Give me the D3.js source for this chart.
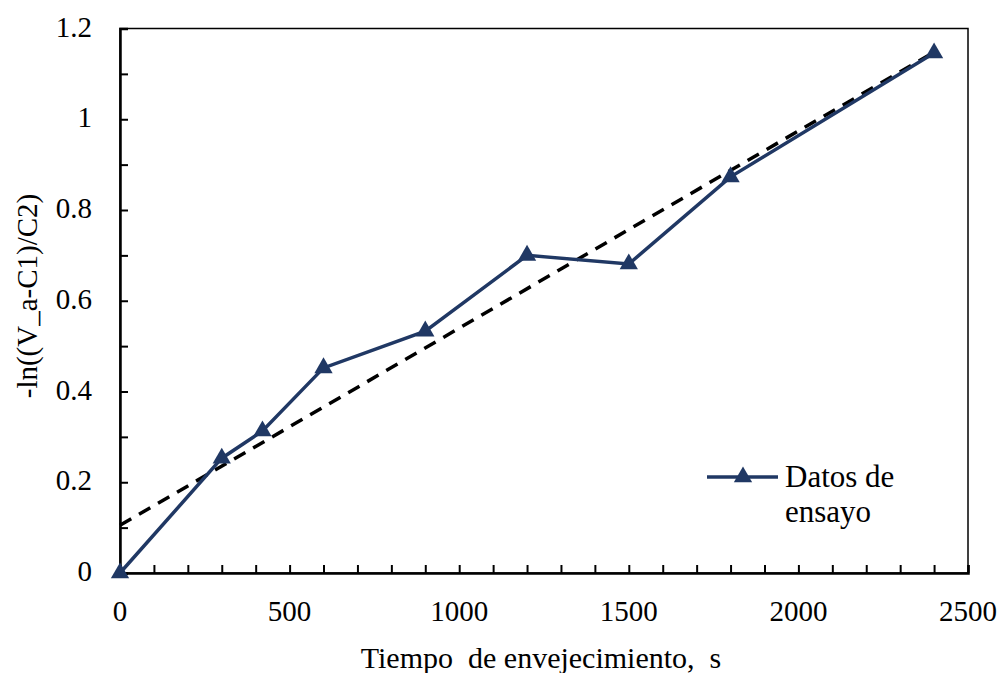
<!DOCTYPE html>
<html>
<head>
<meta charset="utf-8">
<script src="https://cdn.jsdelivr.net/npm/d3@7"></script>
</head>
<body style="margin:0">
<svg id="chart" width="1006" height="673"></svg>
<script>
// data
const tiempo = [0, 300, 420, 600, 900, 1200, 1500, 1800, 2400];
const lnValor = [0, 0.253, 0.313, 0.452, 0.533, 0.70, 0.681, 0.873, 1.146];
const trendX = [0, 2400];
const trendY = [0.105, 1.148];
const xTicks = [0, 500, 1000, 1500, 2000, 2500];
const yTicks = [0, 0.2, 0.4, 0.6, 0.8, 1, 1.2];

const serif = "Times New Roman, Liberation Serif, serif";
const svg = d3.select("#chart");
const mLeft = 120, mRight = 968, mTop = 28.5, mBottom = 573;
const navy = "#203864";

const x = d3.scaleLinear().domain([0, 2500]).range([mLeft, mRight]);
const y = d3.scaleLinear().domain([0, 1.2]).range([mBottom, mTop]);

// text first, so the serif face is the first one used on the page
svg.append("g").selectAll("text").data(xTicks).join("text")
  .attr("x", d => x(d)).attr("y", 621)
  .attr("text-anchor", "middle").attr("font-size", 29)
  .attr("font-family", serif)
  .text(d => d);

svg.append("g").selectAll("text").data(yTicks).join("text")
  .attr("x", mLeft - 28).attr("y", d => y(d) + 8)
  .attr("text-anchor", "end").attr("font-size", 29)
  .attr("font-family", serif)
  .text(d => d);

svg.append("text")
  .attr("x", 541).attr("y", 668)
  .attr("text-anchor", "middle").attr("font-size", 30)
  .attr("font-family", serif)
  .text("Tiempo\u00a0 de envejecimiento,\u00a0 s");

svg.append("text")
  .attr("transform", "translate(37,296) rotate(-90)")
  .attr("text-anchor", "middle").attr("font-size", 29)
  .attr("font-family", serif)
  .text("-ln((V_a-C1)/C2)");

svg.append("text").attr("x", 785).attr("y", 487).attr("font-size", 31)
  .attr("font-family", serif).text("Datos de");
svg.append("text").attr("x", 785).attr("y", 522).attr("font-size", 31)
  .attr("font-family", serif).text("ensayo");

// box
svg.append("rect")
  .attr("x", mLeft).attr("y", mTop)
  .attr("width", mRight - mLeft).attr("height", mBottom - mTop)
  .attr("fill", "none").attr("stroke", "#000").attr("stroke-width", 1.5);

// ticks (inside), every 100 s and every 0.1
const xAxis = d3.axisBottom(x).tickValues(d3.range(0, 2501, 100))
  .tickSize(-8).tickFormat("");
svg.append("g").attr("transform", `translate(0,${mBottom})`).call(xAxis)
  .attr("font-family", serif)
  .call(g => g.selectAll(".tick text").remove())
  .call(g => g.select(".domain").attr("stroke-width", 2.5))
  .call(g => g.selectAll(".tick line").attr("stroke-width", 2));

const yAxis = d3.axisLeft(y).tickValues(d3.range(0, 13).map(i => i / 10))
  .tickSize(-8).tickFormat("");
svg.append("g").attr("transform", `translate(${mLeft},0)`).call(yAxis)
  .attr("font-family", serif)
  .call(g => g.selectAll(".tick text").remove())
  .call(g => g.select(".domain").attr("stroke-width", 2.5))
  .call(g => g.selectAll(".tick line").attr("stroke-width", 2));

// trend line
const trend = trendX.map((d, i) => [d, trendY[i]]);
svg.append("path")
  .attr("d", d3.line().x(d => x(d[0])).y(d => y(d[1]))(trend))
  .attr("fill", "none").attr("stroke", "#000")
  .attr("stroke-width", 3.5).attr("stroke-dasharray", "13,9");

// data series
const pts = tiempo.map((d, i) => [d, lnValor[i]]);
svg.append("path")
  .attr("d", d3.line().x(d => x(d[0])).y(d => y(d[1]))(pts))
  .attr("fill", "none").attr("stroke", navy).attr("stroke-width", 3.5);

const tri = d3.symbol().type(d3.symbolTriangle).size(145);
svg.append("g").selectAll("path").data(pts).join("path")
  .attr("d", tri)
  .attr("transform", d => `translate(${x(d[0])},${y(d[1])})`)
  .attr("fill", navy);

// legend
svg.append("line")
  .attr("x1", 707).attr("x2", 778).attr("y1", 477).attr("y2", 477)
  .attr("stroke", navy).attr("stroke-width", 3.5);
svg.append("path").attr("d", tri)
  .attr("transform", "translate(743,477)").attr("fill", navy);
</script>
</body>
</html>
